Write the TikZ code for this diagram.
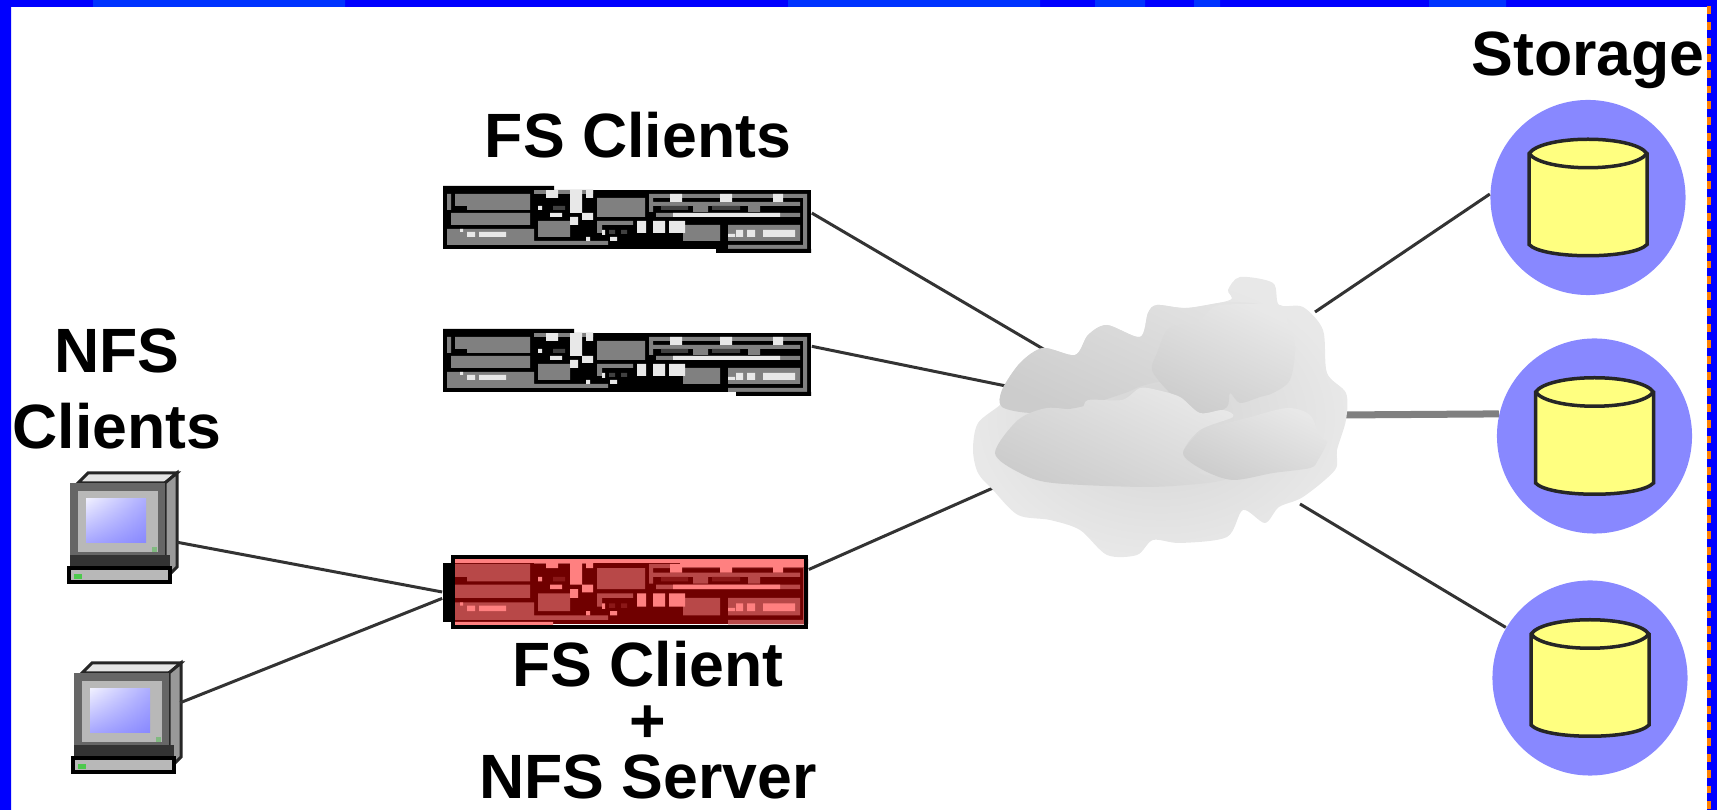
\documentclass[tikz,border=0pt]{standalone}
\usepackage{fontspec}
\usetikzlibrary{shadings}
\setmainfont{Liberation Sans}
\definecolor{rackmid}{HTML}{808080}
\definecolor{racklight}{HTML}{E8E8E8}
\definecolor{rackslot}{HTML}{404040}
\definecolor{rackbase}{HTML}{000000}
\definecolor{storeblue}{HTML}{8888FF}
\definecolor{drumyellow}{HTML}{FFFF80}
\definecolor{frameblue}{HTML}{0000FF}
\tikzset{
  rackbox/.style={inner sep=0pt,fill=black,minimum width=3.68cm,minimum height=.59cm},
  compbox/.style={inner sep=0pt,minimum width=1.05cm,minimum height=1.11cm},
  storebox/.style={circle,inner sep=0pt,fill=storeblue,minimum size=1.95cm},
  title/.style={inner sep=0pt,align=center,font=\fontsize{17.8}{20}\selectfont\bfseries},
  link/.style={draw=black!80,line width=.03cm},
  lobe/.style={left color=black!#1,right color=black!20,shading angle=-25}
}
% front panel of one rack unit, 368 wide
\newcommand\rackunit[2][]{
\begin{scope}[shift={(#2)},#1]
\fill[rackbase] (0,4) rectangle (368,63);
\fill[rackmid] (12,8) rectangle (87,20) (24,20) rectangle (87,24) (8,27) rectangle (87,39)
  (4,43) rectangle (91,59) (4,55) rectangle (165,59) (95,35) rectangle (127,51)
  (154,12) rectangle (202,31) (91,4) rectangle (150,8) (4,8) rectangle (8,24)
  (206,8) rectangle (364,12) (360,8) rectangle (364,63) (285,59) rectangle (364,63)
  (206,8) rectangle (210,26) (210,16) rectangle (357,20) (213,27) rectangle (357,31)
  (250,16) rectangle (265,26) (305,16) rectangle (317,26) (240,39) rectangle (277,55)
  (285,39) rectangle (357,55) (154,35) rectangle (190,39) (154,35) rectangle (159,47);
\fill[rackslot] (218,20) rectangle (245,24) (269,20) rectangle (297,24)
  (110,20) rectangle (122,24) (166,44) rectangle (172,48) (178,44) rectangle (184,48);
\fill[racklight] (127,4) rectangle (139,27) (103,4) rectangle (115,12) (143,4) rectangle (150,12)
  (139,27) rectangle (150,34) (127,31) rectangle (135,39) (107,27) rectangle (119,31)
  (95,20) rectangle (99,24) (227,8) rectangle (239,16) (277,8) rectangle (289,16)
  (330,8) rectangle (340,16) (230,27) rectangle (337,31) (194,35) rectangle (203,47)
  (210,35) rectangle (222,47) (226,35) rectangle (242,47) (167,51) rectangle (174,55)
  (143,51) rectangle (147,55) (159,44) rectangle (162,49) (17,43) rectangle (20,46)
  (24,46) rectangle (32,51) (36,46) rectangle (63,51) (293,44) rectangle (300,51)
  (304,44) rectangle (312,51) (320,44) rectangle (352,51) (285,48) rectangle (292,51);
\end{scope}
}
% small computer, origin is the upper left corner
\newcommand\computer[1]{
\begin{scope}[shift={(#1)}]
\filldraw[fill=black!10,draw=black!85,line width=.03cm] (12,11) -- (22,1) -- (111,1) -- (99,11) -- cycle;
\filldraw[fill=black!40,draw=black!85,line width=.03cm] (99,11) -- (111,1) -- (111,95) -- (104,102) -- (99,85) -- cycle;
\fill[black!60] (4,11) rectangle (99,83);
\fill[black!28] (12,19) rectangle (92,80);
\shade[upper left=blue!6,upper right=storeblue!70,lower left=storeblue!75,lower right=storeblue] (20,27) rectangle (80,71);
\fill[green!45!black!50] (86,75) rectangle (91,80);
\fill[black!80] (4,83) rectangle (104,96);
\filldraw[fill=black!28,draw=black,line width=.04cm] (3,96) rectangle (104,110);
\fill[green!70!black!70] (8,102) rectangle (16,107);
\end{scope}
}
% disk drum on top of a storage circle
\newcommand\storedrum[1]{
\begin{scope}[shift={(#1)}]
\filldraw[fill=drumyellow,draw=black!85,line width=.035cm] (-59,-44) -- (-59,47) .. controls (-45,62) and (45,62) .. (59,47)
  -- (59,-44) .. controls (45,-63) and (-45,-63) .. cycle;
\draw[black!85,line width=.035cm] (-59,-44) .. controls (-45,-25) and (45,-25) .. (59,-44);
\end{scope}
}
\begin{document}
\begin{tikzpicture}[x=.01cm,y=-.01cm]
\useasboundingbox (0,0) rectangle (1717,810);
% Frame
\fill[frameblue] (0,0) rectangle (1717,7) (0,0) rectangle (11,810) (1707,0) rectangle (1717,810);
\fill[blue!80!cyan] (93,0) rectangle (345,7) (788,0) rectangle (1040,7) (1095,0) rectangle (1145,7)
  (1194,0) rectangle (1220,7) (1429,0) rectangle (1506,7);
\draw[orange,line width=.04cm,dash pattern=on .079cm off .08cm] (1709,6) -- (1709,810);
% Titles
\node[title] (fs-title) at (638,135) {FS Clients};
\node[title] (nfs-title) at (117,389) {NFS\\[1.5pt]Clients};
\node[title] (store-title) at (1588,60) {Storage};
\node[title,font=\fontsize{17.8}{16}\selectfont\bfseries] (server-title) at (648,720) {FS Client\\+\\NFS Server};
% Rack units
\node[rackbox] (fs-top) at (627,219.5) {};
\rackunit{443,186}
\fill (443,186) rectangle (554,190) (716,249) rectangle (811,253);
\node[rackbox] (fs-mid) at (627,362.5) {};
\rackunit{443,329}
\fill (443,329) rectangle (574,333) (736,392) rectangle (811,396);
% Red unit
\node[rackbox,fill=none,minimum width=3.65cm,minimum height=.74cm] (fs-nfs) at (625.5,592) {};
\begin{scope}
\definecolor{rackmid}{HTML}{B84848}
\definecolor{racklight}{HTML}{FF8080}
\definecolor{rackslot}{HTML}{8B1818}
\definecolor{rackbase}{HTML}{700000}
\clip (451,555) rectangle (808,629);
\rackunit[yscale=1.1]{443,555}
\fill[racklight] (455,559) rectangle (805,563) (680,563) rectangle (805,567) (455,622) rectangle (553,625);
\end{scope}
\draw[line width=.04cm] (453,557) rectangle (806,627);
\fill (443,563) rectangle (451,622);
% Computers
\node[compbox] (nfs-top) at (124,528) {};
\computer{66,472}
\node[compbox] (nfs-low) at (127,717) {};
\computer{70,662}
% Storage
\node[storebox] (store-top) at (1588,197.5) {};
\storedrum{store-top}
\node[storebox] (store-mid) at (1594.5,436) {};
\storedrum{store-mid}
\node[storebox] (store-low) at (1590,678) {};
\storedrum{store-low}
% Links
\coordinate (cloud-a) at (1045,350);
\coordinate (cloud-b) at (1006,386);
\coordinate (cloud-c) at (993,488);
\coordinate (cloud-d) at (1315,312);
\coordinate (cloud-e) at (1340,415);
\coordinate (cloud-f) at (1300,504);
\draw[link] (fs-top.2) -- (cloud-a);
\draw[link] (fs-mid.5) -- (cloud-b);
\draw[link] (fs-nfs.7.5) -- (cloud-c);
\draw[link] (nfs-top.-15) -- (fs-nfs.180);
\draw[link] (nfs-low.15) -- (fs-nfs.182);
\draw[link] (cloud-d) -- (store-top.178);
\draw[draw=black!50,line width=.07cm] (cloud-e) -- (store-mid.167.6);
\draw[link] (cloud-f) -- (store-low.149.6);
% Cloud, back layer
\shade[inner color=black!17,outer color=black!9] plot[smooth cycle,tension=.5] coordinates {(973,450) (978,423) (1002,403)
  (1002,390) (1020,363) (1043,348) (1075,355) (1088,335) (1107,325) (1140,337) (1148,313) (1157,305) (1187,308)
  (1230,300) (1228,290) (1240,277) (1273,283) (1279,305) (1303,307) (1323,330) (1327,373) (1346,393) (1346,420)
  (1337,450) (1335,470) (1303,497) (1279,507) (1265,523) (1243,510) (1227,537) (1180,543) (1153,540) (1137,555)
  (1107,555) (1080,530) (1050,520) (1018,515) (993,490) (978,473)};
% Cloud, upper left lobe
\shade[lobe=11] plot[smooth cycle,tension=.5] coordinates {(1002,390) (1020,363) (1043,348) (1075,355) (1088,335)
  (1107,325) (1140,337) (1148,313) (1157,305) (1187,308) (1230,302) (1270,310) (1270,360) (1153,383) (1125,393)
  (1080,407) (1033,413) (1002,407)};
% Cloud, upper right lobe
\shade[lobe=9] plot[smooth cycle,tension=.5] coordinates {(1152,370) (1157,353) (1167,330) (1180,325) (1193,325)
  (1207,313) (1220,305) (1280,305) (1287,320) (1295,347) (1290,380) (1273,393) (1260,397) (1240,403) (1230,393)
  (1227,407) (1207,415) (1187,407) (1167,390)};
% Cloud, middle lobe
\shade[lobe=9] plot[smooth cycle,tension=.5] coordinates {(995,453) (1018,420) (1047,408) (1080,410) (1088,400)
  (1122,400) (1140,388) (1157,390) (1180,397) (1200,413) (1223,410) (1233,417) (1200,430) (1183,453) (1200,473)
  (1227,478) (1207,483) (1147,487) (1053,483) (1020,473)};
% Cloud, lower right lobe
\shade[lobe=9] plot[smooth cycle,tension=.5] coordinates {(1183,453) (1203,430) (1227,423) (1247,418) (1287,408)
  (1310,415) (1320,437) (1327,442) (1318,460) (1310,468) (1273,473) (1233,480) (1203,470)};
\end{tikzpicture}
\end{document}
